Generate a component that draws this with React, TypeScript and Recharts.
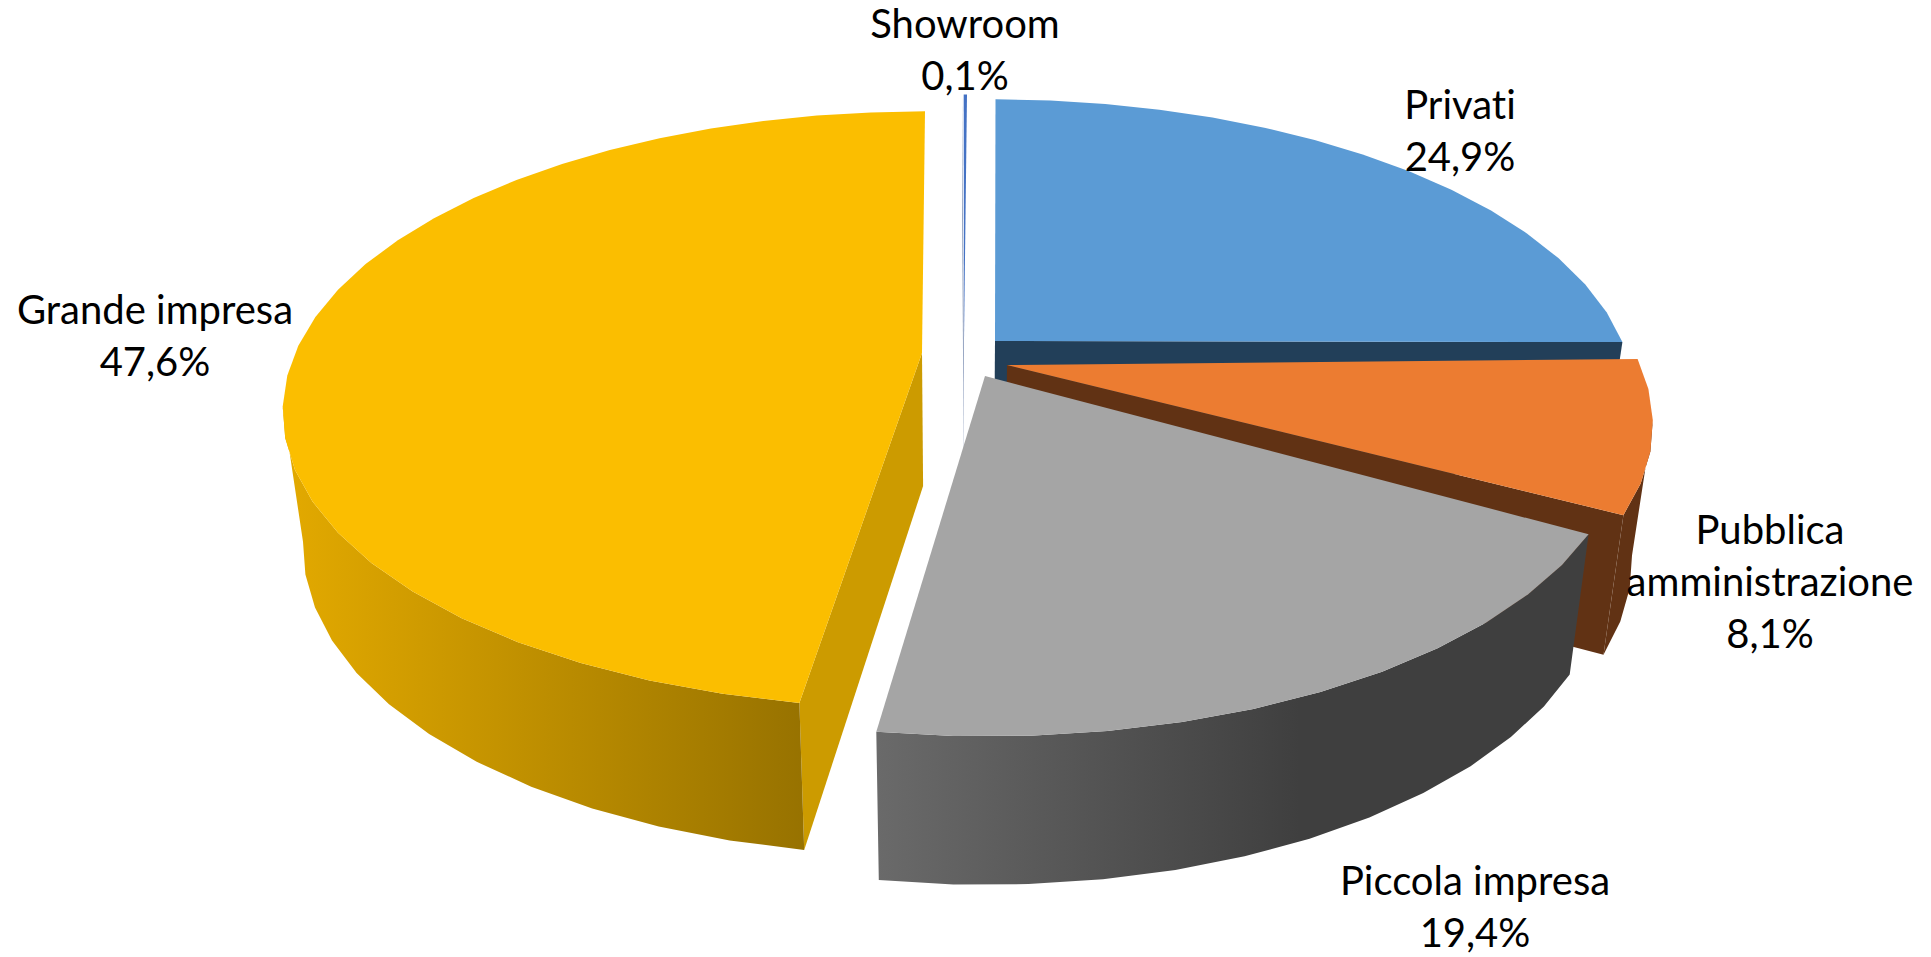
import React from "react";
import { PieChart, Pie, Cell } from "recharts";

const names = ["Showroom", "Privati", "Pubblica\namministrazione", "Piccola impresa", "Grande impresa"];
const shares = [0.1, 24.9, 8.1, 19.4, 47.6];
const shareLabels = ["0,1%", "24,9%", "8,1%", "19,4%", "47,6%"];
const data = names.map((name, i) => ({ name, value: shares[i] }));

// styling of each slice
const topColors = ["#4472C4", "#5B9BD5", "#EC7C31", "#A5A5A5", "#FBBE00"];
const sideColors = ["#9AA8C4", "#223F59", "#613214", "#434343", "#CC9B00"];
const wallFrom = ["#4472C4", "#223F59", "#613214", "#6A6A6A", "#E2A900"];
const wallTo = ["#4472C4", "#223F59", "#613214", "#3F3F3F", "#977200"];
const wallRange = [[960, 970], [1000, 1620], [1500, 1650], [876, 1300], [290, 805]];
const explode = [[4, -10], [35, -9], [47, 15], [25, 26], [-38, 3]];
const scaleX = [1, 1, 1.01, 1, 1];
const scaleY = [1, 0.985, 1, 1, 0.985];
const startFix = [0, 0, -1.1, 0.4, 0];
const endFix = [0, 0.3, -1.1, -0.5, 0];
const labelCenter = [965, 1460, 1770, 1475, 155];
const labelBaseline = [38, 119, 544, 895, 324];

const CX = 960;
const CY = 350;
const RX = 627;
const RY = 292;
const K = 0.19;
const Q = 0.5;
const SHRINK = 0.97;
const STEP = 6;
const FONT = "Lato, 'Open Sans', sans-serif";
const FONT_SIZE = 40;
const LINE = 52;

type P = [number, number];
const rimPoint = (i: number, cx: number, cy: number, deg: number): P => {
  const t = (deg * Math.PI) / 180;
  const u = Math.sin(t);
  const v = -Math.cos(t);
  const s = 1 / (1 - K * v);
  return [
    cx + explode[i][0] * (1 + Q * (s - 1)) + RX * scaleX[i] * u * s,
    cy + explode[i][1] + RY * scaleY[i] * v * s,
  ];
};
const lower = (p: P): P => [CX + SHRINK * (p[0] - CX), p[1] + 133 + 0.04 * (p[1] - 353)];
const path = (pts: P[]) => "M" + pts.map((p) => `${p[0].toFixed(1)},${p[1].toFixed(1)}`).join("L") + "Z";

const Slice3D = (props: any) => {
  const { startAngle, endAngle, index, cx, cy } = props;
  const i = index ?? 0;
  const a0 = 90 - startAngle + startFix[i];
  const a1 = 90 - endAngle + endFix[i];
  const ox = cx + explode[i][0];
  const oy = cy + explode[i][1];
  const apex: P = [ox, oy];
  const n = Math.max(1, Math.ceil((a1 - a0) / STEP));
  const rim: P[] = [];
  for (let k = 0; k <= n; k++) rim.push(rimPoint(i, cx, cy, a0 + ((a1 - a0) * k) / n));
  const first = rim[0];
  const last = rim[n];
  const gid = `wall-${i}`;
  const front: P[] = [];
  for (let k = 0; k < n; k++) {
    if (rim[k + 1][0] < rim[k][0]) {
      if (front.length === 0) front.push(rim[k]);
      front.push(rim[k + 1]);
    }
  }
  const wallPath = front.length > 1 ? path([...front, ...front.map(lower).reverse()]) : "";
  return (
    <g>
      <defs>
        <linearGradient id={gid} gradientUnits="userSpaceOnUse" x1={wallRange[i][0]} x2={wallRange[i][1]} y1={0} y2={0}>
          <stop offset="0%" stopColor={wallFrom[i]} />
          <stop offset="100%" stopColor={wallTo[i]} />
        </linearGradient>
      </defs>
      {i === 0 && <path d={path([apex, [ox - 2, first[1]], [ox - 2, lower(first)[1]], lower(apex)])} fill={sideColors[i]} />}
      {i !== 0 && first[0] - ox < -1 && <path d={path([apex, first, lower(first), lower(apex)])} fill={sideColors[i]} />}
      {last[0] - ox > 8 && <path d={path([apex, last, lower(last), lower(apex)])} fill={sideColors[i]} />}
      {wallPath && <path d={wallPath} fill={`url(#${gid})`} />}
      <path d={path([apex, ...rim])} fill={topColors[i]} />
    </g>
  );
};

const renderLabel = (props: any) => {
  const i = props.index;
  const lines = [...names[i].split("\n"), shareLabels[i]];
  return (
    <text
      key={i}
      textAnchor="middle"
      fontFamily={FONT}
      fontSize={FONT_SIZE}
      fill="#000"
      style={{ fontVariantLigatures: "none" }}
    >
      {lines.map((l, j) => (
        <tspan key={j} x={labelCenter[i]} y={labelBaseline[i] + j * LINE}>
          {l}
        </tspan>
      ))}
    </text>
  );
};

export default function App() {
  return (
    <div style={{ position: "absolute", left: 0, top: 0, width: 1931, height: 957, background: "#fff" }}>
      <PieChart width={1931} height={957} margin={{ top: 0, right: 0, bottom: 0, left: 0 }}>
        <Pie
          data={data}
          dataKey="value"
          nameKey="name"
          cx={CX}
          cy={CY}
          innerRadius={0}
          outerRadius={RX}
          startAngle={90}
          endAngle={-270}
          stroke="none"
          paddingAngle={0}
          isAnimationActive={false}
          shape={Slice3D}
          label={renderLabel}
          labelLine={false}
        >
          {data.map((d, i) => (
            <Cell key={d.name} fill={topColors[i]} />
          ))}
        </Pie>
      </PieChart>
    </div>
  );
}
